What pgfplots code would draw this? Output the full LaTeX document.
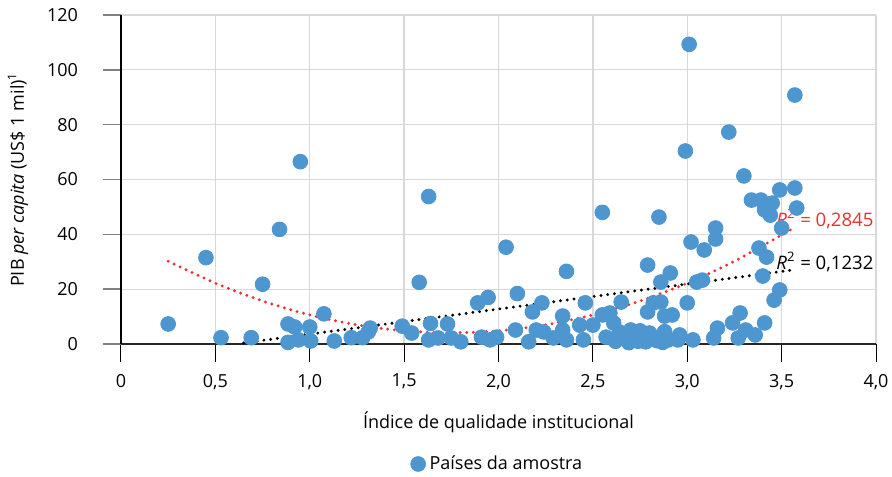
\documentclass[border=0pt]{standalone}
\usepackage{fontspec}
\setmainfont{Open Sans}
\usepackage{pgfplots}
\pgfplotsset{compat=1.18}
\definecolor{ptblue}{RGB}{78,150,208}
\definecolor{fitred}{RGB}{240,45,45}
\definecolor{gridgray}{RGB}{217,217,217}
\begin{document}
\begin{tikzpicture}
\begin{axis}[
  scale only axis, width=377.5pt, height=164.5pt,
  xmin=0, xmax=4, ymin=0, ymax=120,
  xtick={0,0.5,1,1.5,2,2.5,3,3.5,4},
  xticklabels={0,{0,5},{1,0},{1,5},{2,0},{2,5},{3,0},{3,5},{4,0}},
  ytick={0,20,40,60,80,100,120},
  /pgf/number format/assume math mode=true,
  axis x line*=bottom, axis y line*=left,
  x axis line style={black!85, line width=0.6pt},
  y axis line style={black, line width=0.55pt},
  grid=major, major grid style={gridgray, line width=0.65pt},
  tick align=outside, major tick length=9pt,
  x tick style={black, line width=0.5pt},
  y tick style={gray, line width=0.8pt},
  tick label style={font=\fontsize{9}{10}\selectfont},
  x tick label style={anchor=north, yshift=-2.5pt},
  y tick label style={anchor=east, xshift=-9pt},
  xlabel={Índice de qualidade institucional},
  ylabel={PIB \textit{per capita} (US\$ 1 mil)\textsuperscript{1}},
  label style={font=\fontsize{9}{10}\selectfont},
  xlabel style={at={(axis description cs:0.5,-0.2371)}, anchor=center},
  ylabel style={at={(axis description cs:-0.1364,0.5)}, anchor=center},
  legend style={at={(axis description cs:0.5,-0.3647)}, anchor=center, draw=none,
    font=\fontsize{9}{10}\selectfont, inner sep=1pt},
  clip=false,
]
\addplot[only marks, mark=*, mark size=3.7pt, mark options={fill=ptblue, draw=ptblue}] table {
x y
0.25 7.3
0.45 31.5
0.53 2.3
0.69 2.3
0.75 21.8
0.84 41.8
0.95 66.5
0.885 7.3
0.92 6.2
1.0 6.2
1.075 11.0
0.885 0.6
0.94 1.5
1.005 1.1
1.13 1.1
1.22 2.3
1.28 2.3
1.31 4.4
1.32 5.8
1.49 6.5
1.54 4.0
1.58 22.5
1.63 53.8
1.64 7.5
1.73 7.3
1.63 1.5
1.68 2.2
1.75 2.2
1.80 0.8
1.89 15.0
1.945 17.0
1.91 2.5
1.955 1.5
1.99 2.5
2.04 35.3
2.09 5.1
2.10 18.4
2.16 0.8
2.18 11.7
2.20 5.1
2.23 15.0
2.24 4.4
2.29 2.2
2.34 5.1
2.34 10.2
2.36 1.5
2.36 26.5
2.43 6.9
2.45 1.5
2.46 15.0
2.50 6.9
2.55 48.0
2.55 10.6
2.57 2.5
2.59 11.3
2.61 7.7
2.64 4.4
2.65 15.3
2.70 5.1
2.72 2.0
2.74 1.0
2.76 3.5
2.78 0.8
2.79 28.8
2.79 11.7
2.80 4.0
2.82 15.0
2.83 2.0
2.85 46.3
2.86 22.6
2.86 15.3
2.88 10.2
2.88 4.5
2.90 1.5
2.91 25.9
2.92 10.6
2.95 1.5
2.96 3.3
2.99 70.4
3.00 15.0
3.01 109.3
3.02 37.2
3.03 1.5
3.05 22.6
3.08 23.3
3.09 34.3
3.14 2.2
3.15 42.3
3.15 38.3
3.16 5.8
3.22 77.3
3.24 7.7
3.27 2.2
3.28 11.3
3.30 61.3
3.31 5.1
3.34 52.5
3.36 3.3
3.38 35.0
3.39 52.5
3.40 24.8
3.41 7.7
3.41 48.9
3.42 31.7
3.44 47.0
3.45 51.4
3.46 16.0
3.49 19.7
3.49 56.2
3.50 42.3
3.57 56.9
3.57 90.8
3.58 49.6
2.62 1.0
2.67 3.0
2.69 0.5
2.75 4.8
2.84 1.2
2.87 0.6
};
\addlegendentry{Países da amostra}
\addplot[forget plot, black, line width=1.6pt, line cap=round, dash pattern=on 0pt off 3.4pt] coordinates {
(0.65,0.4) (3.57,27.1)};
\addplot[forget plot, fitred, line width=1.6pt, line cap=round, dash pattern=on 0pt off 3.3pt, smooth] coordinates {
(0.25,30.2) (0.5,22.2) (0.75,15.7) (1.0,10.6) (1.25,7.0) (1.5,4.8) (1.75,4.1) (2.0,4.8) (2.25,7.0) (2.5,10.6) (2.75,15.7) (3.0,22.2) (3.25,30.2) (3.57,42.5)};
\node[anchor=west, text=fitred, font=\fontsize{9.3}{10}\selectfont, inner sep=0pt] at (axis cs:3.47,45.6) {\textit{R}\textsuperscript{2} = 0,2845};
\node[anchor=west, text=black, font=\fontsize{9.3}{10}\selectfont, inner sep=0pt] at (axis cs:3.47,29.9) {\textit{R}\textsuperscript{2} = 0,1232};
\coordinate (O) at (rel axis cs:0,0);
\coordinate (T) at (rel axis cs:1,1);
\end{axis}
\pgfresetboundingbox
\path[use as bounding box] ([shift={(-60.5pt,-66pt)}]O) rectangle ([shift={(8pt,7.5pt)}]T);
\end{tikzpicture}
\end{document}
